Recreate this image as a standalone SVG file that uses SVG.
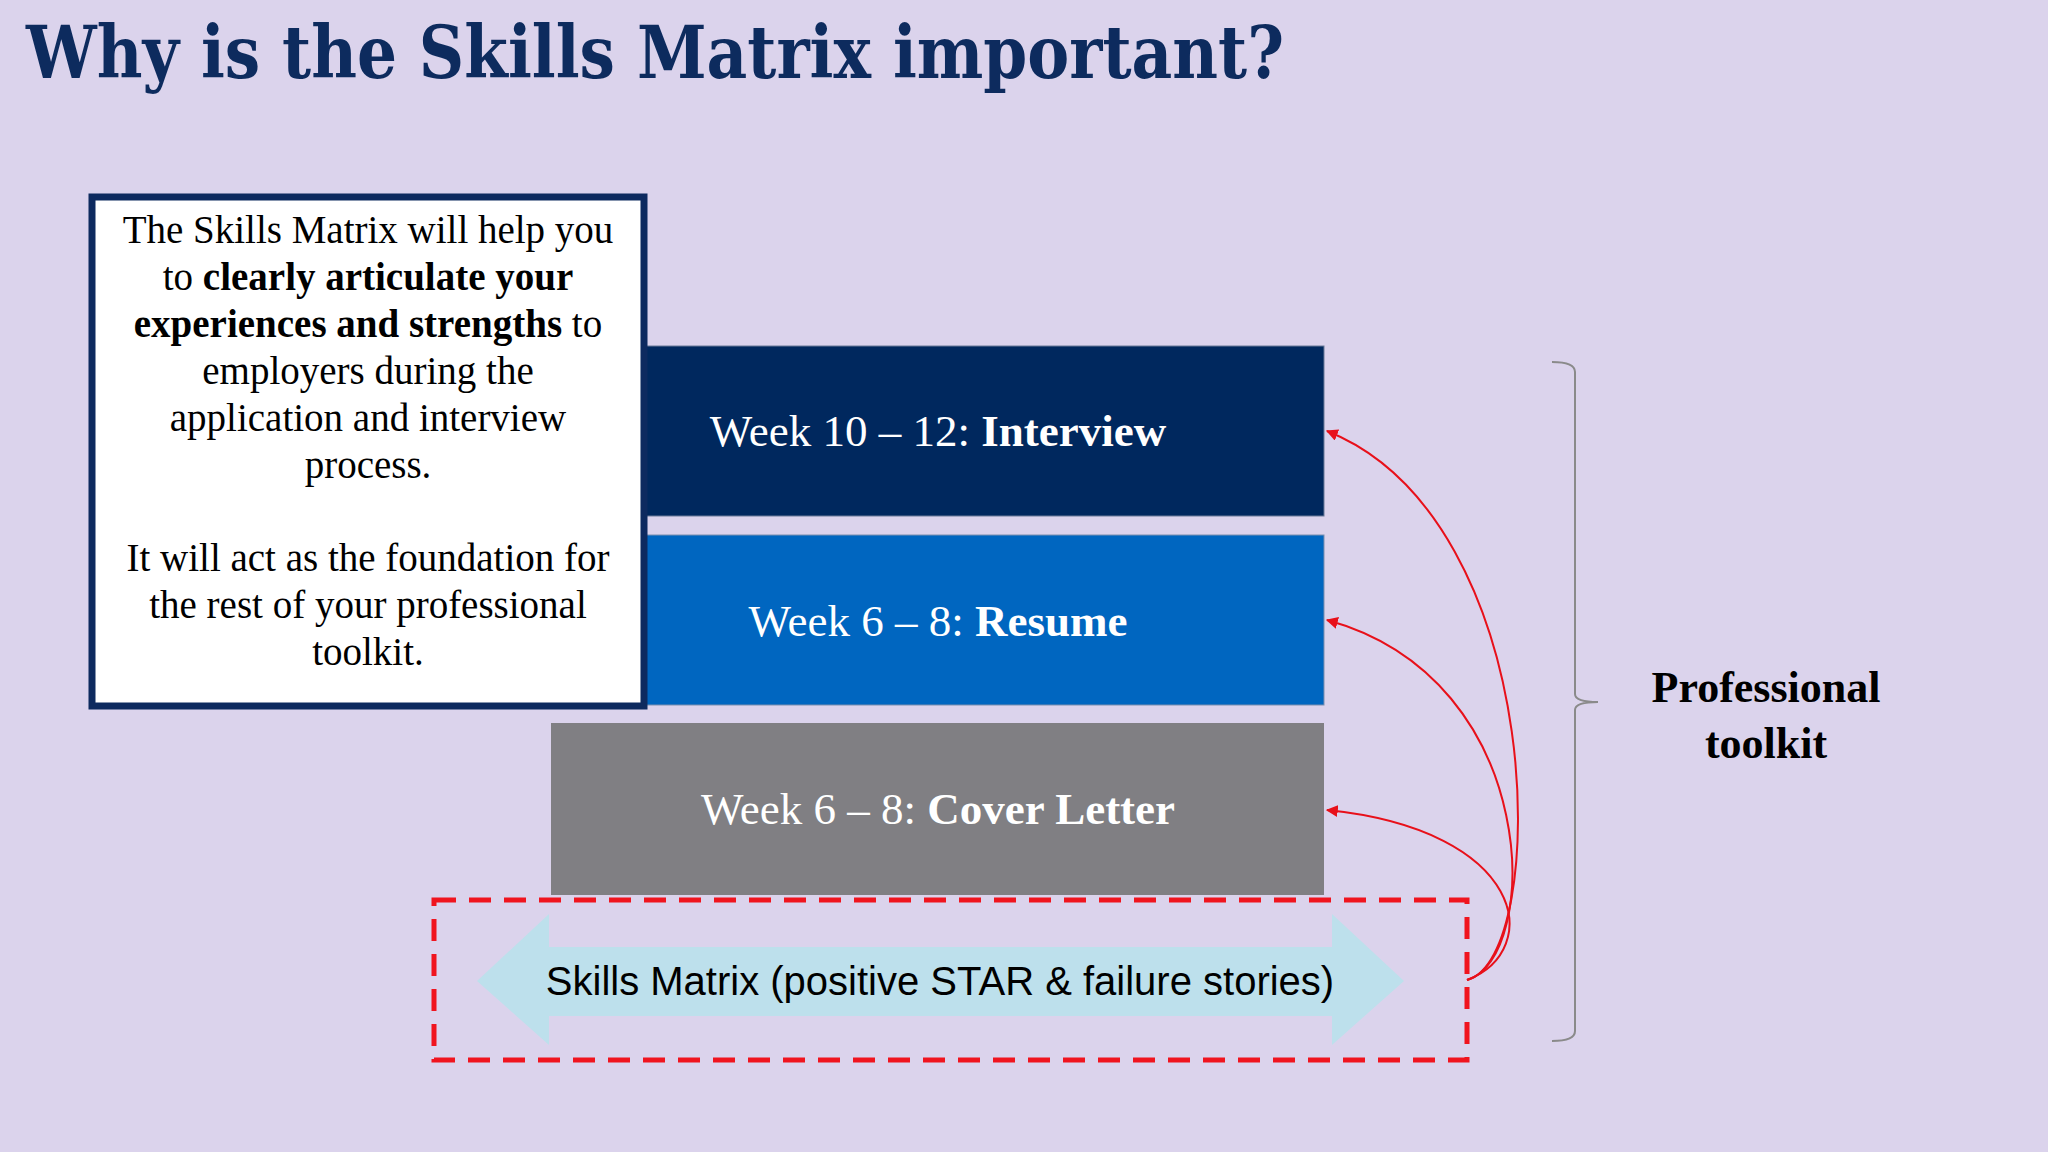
<svg xmlns="http://www.w3.org/2000/svg" width="2048" height="1152" viewBox="0 0 2048 1152">
<defs>
<style>
.s{font-family:"Liberation Serif","Times New Roman",serif;}
.w{fill:#fff;font-size:45px;text-anchor:middle}
.b{font-weight:bold}
.lt{font-size:39px;fill:#000;text-anchor:middle}
.cv{fill:none;stroke:#e8101a;stroke-width:2}
</style>
<marker id="ah" viewBox="0 0 10 10" refX="9" refY="5" markerWidth="6" markerHeight="6" orient="auto"><path d="M0,0L10,5L0,10z" fill="#e8101a"/></marker>
</defs>
<rect width="2048" height="1152" fill="#dbd3ec"/>
<text x="26" y="78" font-family="'DejaVu Serif',serif" font-weight="bold" font-size="72" fill="#0d2b5e" textLength="1258" lengthAdjust="spacingAndGlyphs">Why is the Skills Matrix important?</text>
<g id="interview"><rect x="645" y="346" width="679" height="170" fill="#00285e" stroke="#6a7a98" stroke-width="1"/><text class="s w" x="938" y="446">Week 10 – 12: <tspan class="b">Interview</tspan></text></g>
<g id="resume"><rect x="645" y="535" width="679" height="170" fill="#0066c0" stroke="#7a8fb0" stroke-width="1"/><text class="s w" x="938" y="636">Week 6 – 8: <tspan class="b">Resume</tspan></text></g>
<g id="cover"><rect x="551" y="723" width="773" height="172" fill="#807f83"/><text class="s w" x="938" y="824">Week 6 – 8: <tspan class="b">Cover Letter</tspan></text></g>
<g id="info"><rect x="92" y="197" width="552" height="509" fill="#fff" stroke="#0d2a5f" stroke-width="7"/>
<text class="s lt"><tspan x="368" y="243">The Skills Matrix will help you</tspan><tspan x="368" y="290">to <tspan class="b">clearly articulate your</tspan></tspan><tspan x="368" y="337"><tspan class="b">experiences and strengths</tspan> to</tspan><tspan x="368" y="384">employers during the</tspan><tspan x="368" y="431">application and interview</tspan><tspan x="368" y="478">process.</tspan><tspan x="368" y="571">It will act as the foundation for</tspan><tspan x="368" y="618">the rest of your professional</tspan><tspan x="368" y="665">toolkit.</tspan></text></g>
<g id="matrix"><rect x="434" y="900" width="1033" height="160" fill="none" stroke="#f0141e" stroke-width="5" stroke-dasharray="22 13"/>
<path d="M477,981L549,914L549,947L1332,947L1332,914L1404,981L1332,1045L1332,1016L549,1016L549,1045z" fill="#bde0ec"/>
<text x="940" y="995" font-family="'Liberation Sans',Arial,sans-serif" font-size="40" text-anchor="middle" fill="#000">Skills Matrix (positive STAR &amp; failure stories)</text></g>
<g id="connectors">
<path class="cv" d="M1467,980C1550,960 1550,520 1327,431" marker-end="url(#ah)"/>
<path class="cv" d="M1467,980C1540,960 1545,680 1327,620" marker-end="url(#ah)"/>
<path class="cv" d="M1467,980C1545,950 1525,830 1327,810" marker-end="url(#ah)"/>
</g>
<g id="toolkit"><path d="M1552,362Q1575,362 1575,372L1575,694Q1575,702 1598,702Q1575,702 1575,710L1575,1031Q1575,1041 1552,1041" fill="none" stroke="#8a8a8a" stroke-width="2"/>
<text class="s b" font-size="44" text-anchor="middle"><tspan x="1766" y="702">Professional</tspan><tspan x="1766" y="758">toolkit</tspan></text></g>
</svg>
